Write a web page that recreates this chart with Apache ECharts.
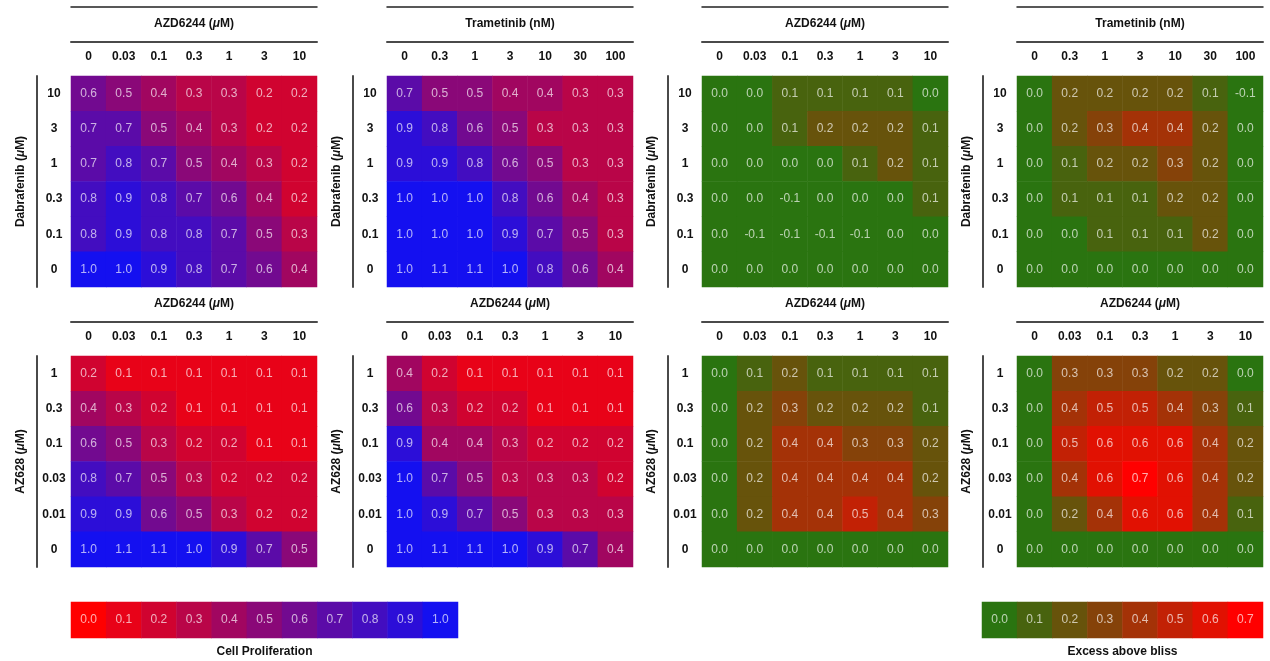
<!DOCTYPE html>
<html>
<head>
<meta charset="utf-8">
<script src="https://cdn.jsdelivr.net/npm/echarts@6/dist/echarts.min.js"></script>
<style>
  html, body { margin: 0; padding: 0; background: #fff; }
  #chart { width: 1270px; height: 661px; }
</style>
</head>
<body>
<div id="chart"></div>
<script>
// ---- dose categories (column order left to right, row order top to bottom) ----
const azd6244Doses = ['0', '0.03', '0.1', '0.3', '1', '3', '10'];
const trametinibDoses = ['0', '0.3', '1', '3', '10', '30', '100'];
const dabrafenibDoses = ['10', '3', '1', '0.3', '0.1', '0'];
const az628Doses = ['1', '0.3', '0.1', '0.03', '0.01', '0'];

// ---- cell proliferation (fraction of control), rows top to bottom ----
const prolifAzdDab = [
  [0.6, 0.5, 0.4, 0.3, 0.3, 0.2, 0.2],
  [0.7, 0.7, 0.5, 0.4, 0.3, 0.2, 0.2],
  [0.7, 0.8, 0.7, 0.5, 0.4, 0.3, 0.2],
  [0.8, 0.9, 0.8, 0.7, 0.6, 0.4, 0.2],
  [0.8, 0.9, 0.8, 0.8, 0.7, 0.5, 0.3],
  [1.0, 1.0, 0.9, 0.8, 0.7, 0.6, 0.4]
];
const prolifTramDab = [
  [0.7, 0.5, 0.5, 0.4, 0.4, 0.3, 0.3],
  [0.9, 0.8, 0.6, 0.5, 0.3, 0.3, 0.3],
  [0.9, 0.9, 0.8, 0.6, 0.5, 0.3, 0.3],
  [1.0, 1.0, 1.0, 0.8, 0.6, 0.4, 0.3],
  [1.0, 1.0, 1.0, 0.9, 0.7, 0.5, 0.3],
  [1.0, 1.1, 1.1, 1.0, 0.8, 0.6, 0.4]
];
const prolifAzdAz628A = [
  [0.2, 0.1, 0.1, 0.1, 0.1, 0.1, 0.1],
  [0.4, 0.3, 0.2, 0.1, 0.1, 0.1, 0.1],
  [0.6, 0.5, 0.3, 0.2, 0.2, 0.1, 0.1],
  [0.8, 0.7, 0.5, 0.3, 0.2, 0.2, 0.2],
  [0.9, 0.9, 0.6, 0.5, 0.3, 0.2, 0.2],
  [1.0, 1.1, 1.1, 1.0, 0.9, 0.7, 0.5]
];
const prolifAzdAz628B = [
  [0.4, 0.2, 0.1, 0.1, 0.1, 0.1, 0.1],
  [0.6, 0.3, 0.2, 0.2, 0.1, 0.1, 0.1],
  [0.9, 0.4, 0.4, 0.3, 0.2, 0.2, 0.2],
  [1.0, 0.7, 0.5, 0.3, 0.3, 0.3, 0.2],
  [1.0, 0.9, 0.7, 0.5, 0.3, 0.3, 0.3],
  [1.0, 1.1, 1.1, 1.0, 0.9, 0.7, 0.4]
];

// ---- excess above Bliss independence, rows top to bottom ----
const blissAzdDab = [
  [0.0, 0.0, 0.1, 0.1, 0.1, 0.1, 0.0],
  [0.0, 0.0, 0.1, 0.2, 0.2, 0.2, 0.1],
  [0.0, 0.0, 0.0, 0.0, 0.1, 0.2, 0.1],
  [0.0, 0.0, -0.1, 0.0, 0.0, 0.0, 0.1],
  [0.0, -0.1, -0.1, -0.1, -0.1, 0.0, 0.0],
  [0.0, 0.0, 0.0, 0.0, 0.0, 0.0, 0.0]
];
const blissTramDab = [
  [0.0, 0.2, 0.2, 0.2, 0.2, 0.1, -0.1],
  [0.0, 0.2, 0.3, 0.4, 0.4, 0.2, 0.0],
  [0.0, 0.1, 0.2, 0.2, 0.3, 0.2, 0.0],
  [0.0, 0.1, 0.1, 0.1, 0.2, 0.2, 0.0],
  [0.0, 0.0, 0.1, 0.1, 0.1, 0.2, 0.0],
  [0.0, 0.0, 0.0, 0.0, 0.0, 0.0, 0.0]
];
const blissAzdAz628A = [
  [0.0, 0.1, 0.2, 0.1, 0.1, 0.1, 0.1],
  [0.0, 0.2, 0.3, 0.2, 0.2, 0.2, 0.1],
  [0.0, 0.2, 0.4, 0.4, 0.3, 0.3, 0.2],
  [0.0, 0.2, 0.4, 0.4, 0.4, 0.4, 0.2],
  [0.0, 0.2, 0.4, 0.4, 0.5, 0.4, 0.3],
  [0.0, 0.0, 0.0, 0.0, 0.0, 0.0, 0.0]
];
const blissAzdAz628B = [
  [0.0, 0.3, 0.3, 0.3, 0.2, 0.2, 0.0],
  [0.0, 0.4, 0.5, 0.5, 0.4, 0.3, 0.1],
  [0.0, 0.5, 0.6, 0.6, 0.6, 0.4, 0.2],
  [0.0, 0.4, 0.6, 0.7, 0.6, 0.4, 0.2],
  [0.0, 0.2, 0.4, 0.6, 0.6, 0.4, 0.1],
  [0.0, 0.0, 0.0, 0.0, 0.0, 0.0, 0.0]
];

// ---- colour-bar ticks ----
const prolifScaleTicks = [0.0, 0.1, 0.2, 0.3, 0.4, 0.5, 0.6, 0.7, 0.8, 0.9, 1.0];
const blissScaleTicks = [0.0, 0.1, 0.2, 0.3, 0.4, 0.5, 0.6, 0.7];

// ---- drawing ----
const FONT = '"Liberation Sans", Arial, Helvetica, sans-serif';
const RULE = '#4a4a4a';
const CELL_TEXT = 'rgba(255,255,255,0.68)';

function axisTitle(drug, unit) {
  if (unit === 'μM') return '{b|' + drug + ' (}{i|μ}{b|M)}';
  return '{b|' + drug + ' (' + unit + ')}';
}
const titleRich = {
  b: { fontFamily: FONT, fontWeight: 'bold', fontSize: 12, color: '#111' },
  i: { fontFamily: FONT, fontWeight: 'bold', fontStyle: 'italic', fontSize: 12, color: '#111' }
};

// rows are listed top to bottom; category y axes run bottom to top
function toCells(rows) {
  const out = [];
  const n = rows.length;
  rows.forEach((r, ri) => r.forEach((v, ci) => out.push([ci, n - 1 - ri, v])));
  return out;
}

const panels = [
  { xCats: azd6244Doses, xTitle: axisTitle('AZD6244', 'μM'), yCats: dabrafenibDoses, yTitle: axisTitle('Dabrafenib', 'μM'), rows: prolifAzdDab, scale: 'prolif', rule: true },
  { xCats: trametinibDoses, xTitle: axisTitle('Trametinib', 'nM'), yCats: dabrafenibDoses, yTitle: axisTitle('Dabrafenib', 'μM'), rows: prolifTramDab, scale: 'prolif', rule: true },
  { xCats: azd6244Doses, xTitle: axisTitle('AZD6244', 'μM'), yCats: dabrafenibDoses, yTitle: axisTitle('Dabrafenib', 'μM'), rows: blissAzdDab, scale: 'bliss', rule: true },
  { xCats: trametinibDoses, xTitle: axisTitle('Trametinib', 'nM'), yCats: dabrafenibDoses, yTitle: axisTitle('Dabrafenib', 'μM'), rows: blissTramDab, scale: 'bliss', rule: true },
  { xCats: azd6244Doses, xTitle: axisTitle('AZD6244', 'μM'), yCats: az628Doses, yTitle: axisTitle('AZ628', 'μM'), rows: prolifAzdAz628A, scale: 'prolif', rule: false },
  { xCats: azd6244Doses, xTitle: axisTitle('AZD6244', 'μM'), yCats: az628Doses, yTitle: axisTitle('AZ628', 'μM'), rows: prolifAzdAz628B, scale: 'prolif', rule: false },
  { xCats: azd6244Doses, xTitle: axisTitle('AZD6244', 'μM'), yCats: az628Doses, yTitle: axisTitle('AZ628', 'μM'), rows: blissAzdAz628A, scale: 'bliss', rule: false },
  { xCats: azd6244Doses, xTitle: axisTitle('AZD6244', 'μM'), yCats: az628Doses, yTitle: axisTitle('AZ628', 'μM'), rows: blissAzdAz628B, scale: 'bliss', rule: false }
];

// panel layout in pixels
const colLeft = [71, 387, 702, 1017];
const rowTop = [76, 356];
const PANEL_W = 246, PANEL_H = 211, AXIS_OFFSET = 34;

const grid = [], xAxis = [], yAxis = [], series = [];
const prolifSeries = [], blissSeries = [];

panels.forEach((p, k) => {
  const gi = grid.length;
  grid.push({ left: colLeft[k % 4], top: rowTop[Math.floor(k / 4)], width: PANEL_W, height: PANEL_H });

  const xi = xAxis.length;
  xAxis.push({
    type: 'category', gridIndex: gi, data: p.xCats.slice(), position: 'top', offset: AXIS_OFFSET,
    axisLine: { show: true, lineStyle: { color: RULE, width: 2 } },
    axisTick: { show: false }, splitLine: { show: false },
    axisLabel: { inside: true, margin: 9, fontFamily: FONT, fontWeight: 'bold', fontSize: 12, color: '#111' },
    name: p.xTitle, nameLocation: 'middle', nameGap: 12, nameTextStyle: { rich: titleRich }
  });
  if (p.rule) {
    // thin rule across the top of the upper panels
    xAxis.push({
      type: 'category', gridIndex: gi, data: p.xCats.slice(), position: 'top', offset: 69,
      axisLine: { show: true, lineStyle: { color: '#222', width: 1.5 } },
      axisTick: { show: false }, axisLabel: { show: false }, splitLine: { show: false }
    });
  }
  const yi = yAxis.length;
  yAxis.push({
    type: 'category', gridIndex: gi, data: p.yCats.slice().reverse(), position: 'left', offset: AXIS_OFFSET,
    axisLine: { show: true, lineStyle: { color: RULE, width: 2 } },
    axisTick: { show: false }, splitLine: { show: false },
    axisLabel: { inside: true, margin: 17, align: 'center', fontFamily: FONT, fontWeight: 'bold', fontSize: 12, color: '#111' },
    name: p.yTitle, nameLocation: 'middle', nameGap: 10, nameTextStyle: { rich: titleRich }
  });

  (p.scale === 'prolif' ? prolifSeries : blissSeries).push(series.length);
  series.push({
    type: 'heatmap', xAxisIndex: xi, yAxisIndex: yi, data: toCells(p.rows),
    label: { show: true, formatter: (d) => d.value[2].toFixed(1), color: CELL_TEXT, fontFamily: FONT, fontSize: 12 },
    emphasis: { disabled: true }
  });
});

// colour bars, drawn as one-row heatmaps
function colourBar(ticks, left, width, title, bucket) {
  const gi = grid.length;
  grid.push({ left: left, top: 602, width: width, height: 36 });
  const xi = xAxis.length;
  xAxis.push({
    type: 'category', gridIndex: gi, data: ticks.map(t => t.toFixed(1)), position: 'bottom',
    axisLine: { show: false }, axisTick: { show: false }, axisLabel: { show: false }, splitLine: { show: false },
    name: title, nameLocation: 'middle', nameGap: 8,
    nameTextStyle: { fontFamily: FONT, fontWeight: 'bold', fontSize: 12, color: '#111' }
  });
  const yi = yAxis.length;
  yAxis.push({ type: 'category', gridIndex: gi, data: [''], show: false });
  bucket.push(series.length);
  series.push({
    type: 'heatmap', xAxisIndex: xi, yAxisIndex: yi, data: ticks.map((t, i) => [i, 0, t]),
    label: { show: true, formatter: (d) => d.value[2].toFixed(1), color: CELL_TEXT, fontFamily: FONT, fontSize: 12 },
    emphasis: { disabled: true }
  });
}
colourBar(prolifScaleTicks, 71, 387, 'Cell Proliferation', prolifSeries);
colourBar(blissScaleTicks, 982, 281, 'Excess above bliss', blissSeries);

const option = {
  animation: false,
  backgroundColor: '#ffffff',
  grid: grid,
  xAxis: xAxis,
  yAxis: yAxis,
  visualMap: [
    {
      type: 'continuous', show: false, seriesIndex: prolifSeries, dimension: 2,
      min: 0, max: 1,
      inRange: { color: ['#ff0000', '#1410f0'] },
      outOfRange: { color: ['#1410f0'] }
    },
    {
      type: 'continuous', show: false, seriesIndex: blissSeries, dimension: 2,
      min: 0, max: 0.7,
      inRange: { color: ['#2a7410', '#ff0000'] },
      outOfRange: { color: ['#168c10'] }
    }
  ],
  series: series
};

const chart = echarts.init(document.getElementById('chart'), null, { renderer: 'canvas' });
chart.setOption(option);
</script>
</body>
</html>
